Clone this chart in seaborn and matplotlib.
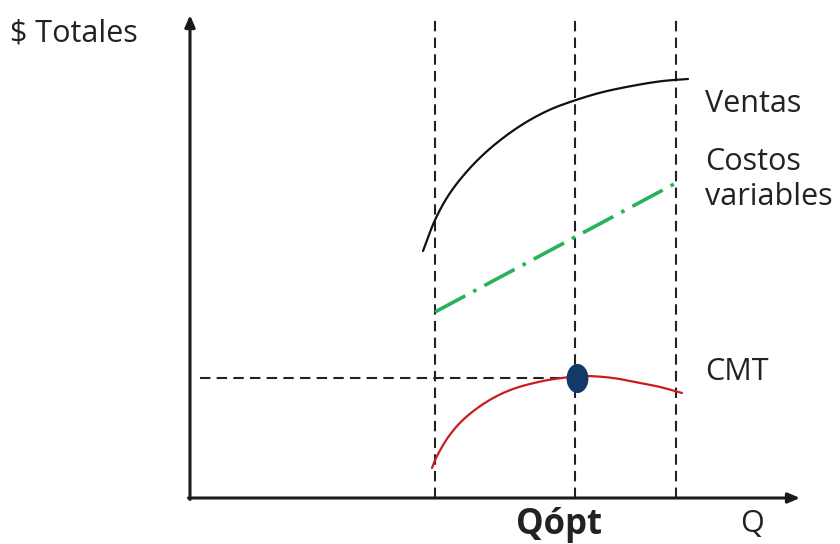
import numpy as np
import pandas as pd
import matplotlib
matplotlib.use("Agg")
import matplotlib.pyplot as plt
import seaborn as sns
from matplotlib.path import Path
from matplotlib.transforms import Affine2D

# ---- data (chart units: origin at axes corner) ----
ventas_q = [233, 245, 260, 280, 303, 330, 357, 383, 413, 447, 473, 498]
ventas_v = [247, 278, 305, 330, 352, 372, 387, 397, 406, 413, 417, 419]

costos_q = [245, 486]
costos_v = [186, 315]

cmt_q = [242, 247, 259, 275, 298, 323, 353, 380, 397, 423, 450, 470, 492]
cmt_v = [30, 42, 62, 80, 97, 109, 117, 121, 122, 120, 115, 111, 105]

ref_q = [245, 385, 486]      # vertical reference lines
opt_q = [387]
opt_v = [120]

curve_labels = ["Ventas", "Costos", "variables", "CMT"]
y_label = "\\$ Totales"
x_label = "Q"
opt_label = "Qópt"


def catmull_rom(xs, ys, n=20):
    """Smooth drawing path passing through the read points."""
    p = np.column_stack([xs, ys]).astype(float)
    p = np.vstack([2 * p[0] - p[1], p, 2 * p[-1] - p[-2]])
    out = []
    t = np.linspace(0, 1, n, endpoint=False)[:, None]
    for i in range(1, len(p) - 2):
        p0, p1, p2, p3 = p[i - 1], p[i], p[i + 1], p[i + 2]
        seg = 0.5 * ((2 * p1) + (-p0 + p2) * t + (2 * p0 - 5 * p1 + 4 * p2 - p3) * t ** 2
                     + (-p0 + 3 * p1 - 3 * p2 + p3) * t ** 3)
        out.append(seg)
    out.append(p[-2][None, :])
    out = np.vstack(out)
    return pd.DataFrame({"q": out[:, 0], "v": out[:, 1]})


sns.set_style("white")
plt.rcParams["font.family"] = ["Open Sans", "DejaVu Sans"]

fig = plt.figure(figsize=(8.4, 5.44), dpi=100)
ax = fig.add_axes([190/840, 46/544, 650/840, 498/544])
ax.set_xlim(0, 650)
ax.set_ylim(0, 498)
ax.axis("off")

# vertical dashed lines
ax.vlines(ref_q, 0, 481, colors="#222222", linestyles=(0, (5, 3)), lw=1.5, clip_on=False)
# horizontal dashed line to optimum
ax.hlines(opt_v, 10, opt_q[0] - 2, colors="#222222", linestyles=(0, (5, 3)), lw=1.5, clip_on=False)

df_c = pd.DataFrame({"q": costos_q, "v": costos_v})

sns.lineplot(data=catmull_rom(ventas_q, ventas_v), x="q", y="v", ax=ax, color="#111111", lw=1.6, sort=False)
sns.lineplot(data=df_c, x="q", y="v", ax=ax, color="#26b35a", lw=2.6,
             linestyle=(0, (9.5, 2.5, 1, 2.5)))
sns.lineplot(data=catmull_rom(cmt_q, cmt_v), x="q", y="v", ax=ax, color="#cc1b1f", lw=1.6, sort=False)

ell = Path.unit_circle().transformed(Affine2D().scale(0.75, 1.0))
ax.scatter(opt_q, opt_v, marker=ell, s=440, color="#123a68", zorder=5, clip_on=False, linewidths=0)

# axes arrows
ax.annotate("", xy=(0, 483), xytext=(0, -1.5), annotation_clip=False,
            arrowprops=dict(arrowstyle="-|>,head_length=0.7,head_width=0.3", lw=2.2, color="#1a1a1a", shrinkA=0, shrinkB=0))
ax.annotate("", xy=(610, 0), xytext=(-1.5, 0), annotation_clip=False,
            arrowprops=dict(arrowstyle="-|>,head_length=0.7,head_width=0.3", lw=2.2, color="#1a1a1a", shrinkA=0, shrinkB=0))

tc = "#222222"
fs = 22
ax.text(515, 394, curve_labels[0], fontsize=fs, color=tc, va="center", ha="left", clip_on=False)
ax.text(515, 336, curve_labels[1], fontsize=fs, color=tc, va="center", ha="left", clip_on=False)
ax.text(515, 301, curve_labels[2], fontsize=fs, color=tc, va="center", ha="left", clip_on=False)
ax.text(515, 126, curve_labels[3], fontsize=fs, color=tc, va="center", ha="left", clip_on=False)
ax.text(-180, 465, y_label, fontsize=fs, color=tc, va="center", ha="left", clip_on=False)
ax.text(562, -26, x_label, fontsize=fs, color=tc, va="center", ha="center", clip_on=False)
ax.text(369, -27, opt_label, fontsize=25, fontweight="bold", color=tc, va="center", ha="center", clip_on=False)

fig.savefig("out.png", dpi=100)
